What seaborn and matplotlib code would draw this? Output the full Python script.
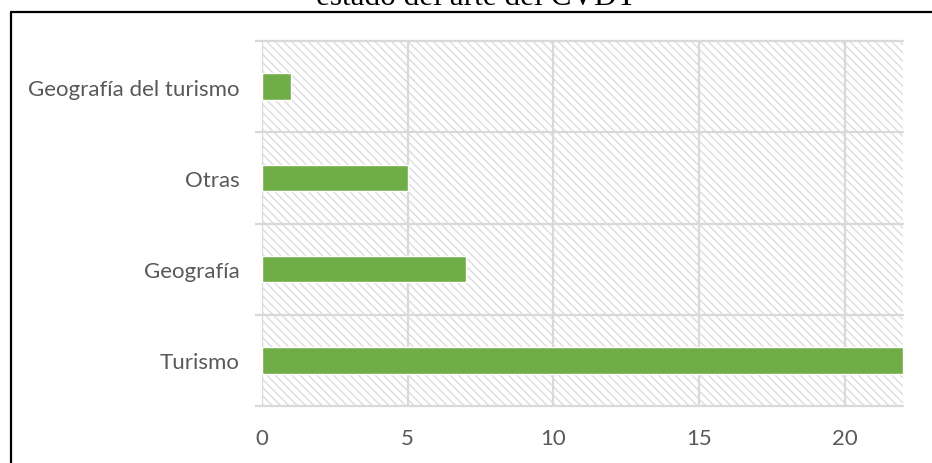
import matplotlib
matplotlib.use("Agg")
import matplotlib.pyplot as plt
import seaborn as sns
import pandas as pd
from matplotlib.patches import Rectangle
from matplotlib.lines import Line2D

categories = ["Geografía del turismo", "Otras", "Geografía", "Turismo"]
values = [1, 5, 7, 22]
xticks = [0, 5, 10, 15, 20]
title = "estado del arte del CVDT"

df = pd.DataFrame({"categoria": categories, "valor": values})

sns.set_theme(style="white")
plt.rcParams["font.family"] = ["Lato", "DejaVu Sans"]
plt.rcParams["hatch.color"] = "#dcdcdc"
plt.rcParams["hatch.linewidth"] = 1.0

W, H = 932, 464
fig = plt.figure(figsize=(W / 100, H / 100), dpi=100)
ax = fig.add_axes([262 / W, 1 - 407 / H, (903 - 262) / W, (407 - 42) / H])

# hatched background
bg = Rectangle((0, 0), 1, 1, transform=ax.transAxes, facecolor="white",
               edgecolor="#dcdcdc", hatch="\\\\\\\\", linewidth=0, zorder=0)
ax.add_patch(bg)

sns.barplot(data=df, x="valor", y="categoria", orient="h", order=categories,
            color="#70AD47", saturation=1, width=0.29, ax=ax, zorder=3)

grid_c = "#d9d9d9"
ax.set_xlim(0, 22)
ax.set_ylim(3.5, -0.5)
ax.set_xticks(xticks)
for x in xticks:
    ax.axvline(x, color=grid_c, lw=1.6, zorder=1)
for y in [-0.5, 0.5, 1.5, 2.5, 3.5]:
    ax.axhline(y, color=grid_c, lw=1.6, zorder=1, clip_on=False)
ax.set_yticks([-0.5, 0.5, 1.5, 2.5, 3.5], minor=True)
ax.tick_params(axis="y", which="minor", length=5, width=1.6, color=grid_c, left=True)
ax.tick_params(axis="y", which="major", length=0, pad=16, labelsize=16, labelcolor="#595959")
ax.tick_params(axis="x", length=0, pad=15.5, labelsize=16, labelcolor="#595959")
for s in ax.spines.values():
    s.set_visible(False)
ax.set_xlabel("")
ax.set_ylabel("")

# border frame
fig.add_artist(Line2D([10.5 / W, 1], [1 - 12.5 / H, 1 - 12.5 / H], color="black", lw=1.6))
fig.add_artist(Line2D([10.5 / W, 10.5 / W], [0, 1 - 12.5 / H], color="black", lw=1.6))

fig.text(476 / W, 1 - 5 / H, title, ha="center", va="baseline",
         fontsize=22.5, family=["Liberation Serif", "DejaVu Serif"], color="black")

fig.savefig("out.png", dpi=100)
